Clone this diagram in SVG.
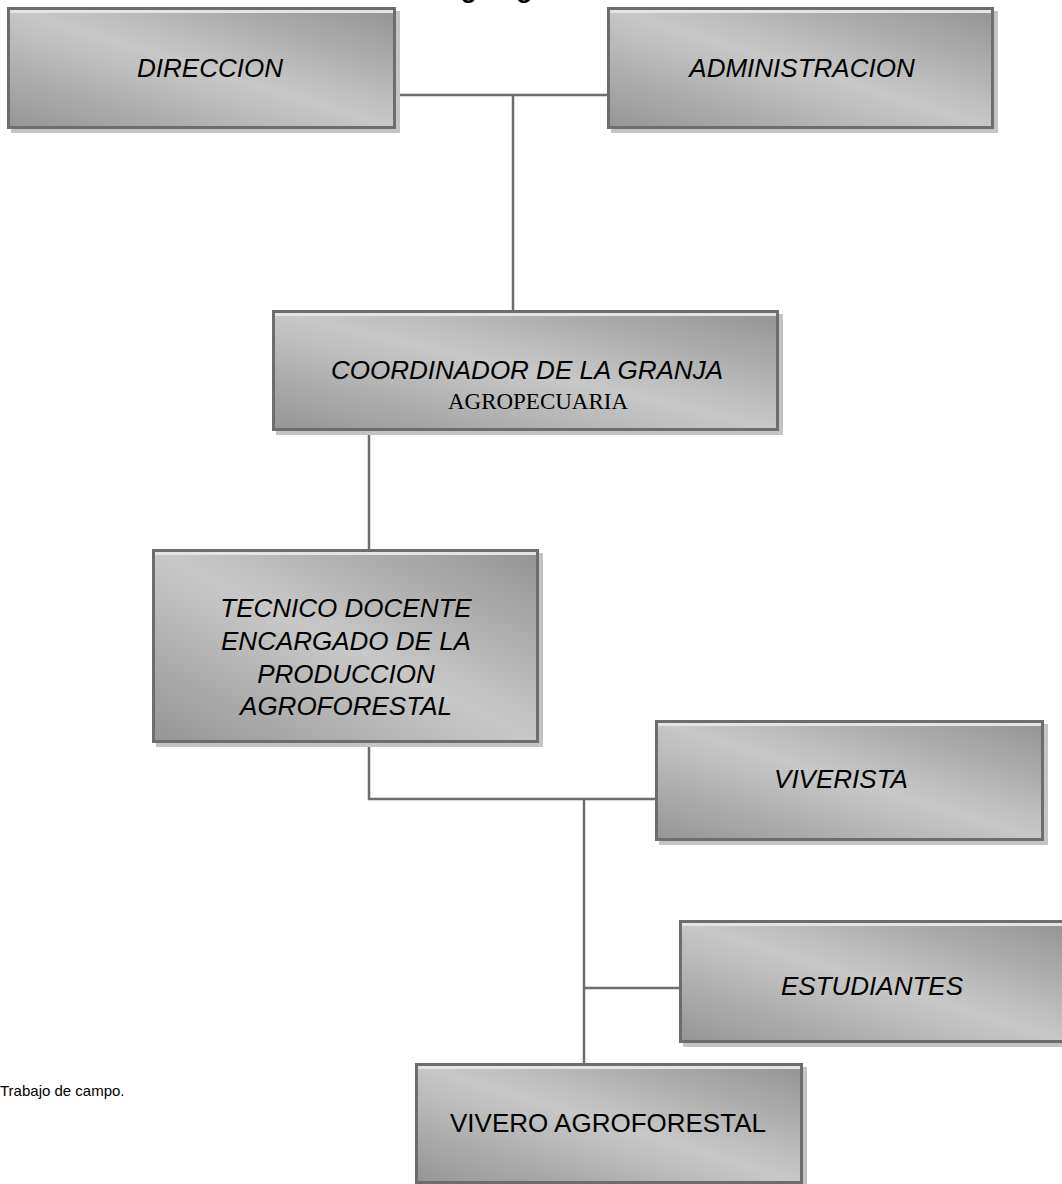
<svg xmlns="http://www.w3.org/2000/svg" width="1062" height="1184" viewBox="0 0 1062 1184">
<style>
.shadow{fill:#c4c4c4}
.box{fill:url(#g);stroke:#6d6d6d;stroke-width:3}
.hl{fill:#e4e4e4}
.conn{stroke:#6d6d6d;stroke-width:2.5;fill:none}
.t{font-family:"Liberation Sans",Arial,sans-serif;font-size:26px;font-style:italic;fill:#000;text-anchor:middle}
.n{font-family:"Liberation Sans",Arial,sans-serif;font-size:26px;fill:#000;text-anchor:middle}
.s{font-family:"Liberation Serif","Times New Roman",serif;font-size:23px;fill:#000;text-anchor:middle}
</style>
<defs>
<linearGradient id="g" x1="1" y1="0" x2="0" y2="1">
<stop offset="0" stop-color="#939393"/>
<stop offset="0.5" stop-color="#c8c8c8"/>
<stop offset="1" stop-color="#959595"/>
</linearGradient>
</defs>
<rect width="1062" height="1184" fill="#fff"/>
<text x="513" y="-3" style="font-family:'Liberation Sans',Arial,sans-serif;font-size:27px;font-weight:bold;text-anchor:middle">Organigrama</text>
<g id="connectors">
<path class="conn" d="M395 95 H608"/>
<path class="conn" d="M513 95 V311"/>
<path class="conn" d="M369 431 V550"/>
<path class="conn" d="M369 742 V799 H656"/>
<path class="conn" d="M584 799 V1065"/>
<path class="conn" d="M584 988 H680"/>
</g>
<g id="direccion">
<rect class="shadow" x="11" y="11" width="389" height="122"/>
<rect class="box" x="8.5" y="8.5" width="386" height="119"/>
<rect class="hl" x="10" y="10" width="383" height="3"/>
<text class="t" x="210" y="77">DIRECCION</text>
</g>
<g id="administracion">
<rect class="shadow" x="611" y="11" width="387" height="122"/>
<rect class="box" x="608.5" y="8.5" width="384" height="119"/>
<rect class="hl" x="610" y="10" width="381" height="3"/>
<text class="t" x="802" y="77">ADMINISTRACION</text>
</g>
<g id="coordinador">
<rect class="shadow" x="276" y="314" width="507" height="121"/>
<rect class="box" x="273.5" y="311.5" width="504" height="118"/>
<rect class="hl" x="275" y="313" width="501" height="3"/>
<text class="t" x="527" y="379">COORDINADOR DE LA GRANJA</text>
<text class="s" x="538" y="409">AGROPECUARIA</text>
</g>
<g id="tecnico">
<rect class="shadow" x="156" y="553" width="387" height="194"/>
<rect class="box" x="153.5" y="550.5" width="384" height="191"/>
<rect class="hl" x="155" y="552" width="381" height="3"/>
<text class="t" x="346" y="617">TECNICO DOCENTE</text>
<text class="t" x="346" y="650">ENCARGADO DE LA</text>
<text class="t" x="346" y="683">PRODUCCION</text>
<text class="t" x="346" y="715">AGROFORESTAL</text>
</g>
<g id="viverista">
<rect class="shadow" x="659" y="724" width="389" height="121"/>
<rect class="box" x="656.5" y="721.5" width="386" height="118"/>
<rect class="hl" x="658" y="723" width="383" height="3"/>
<text class="t" x="841" y="788">VIVERISTA</text>
</g>
<g id="estudiantes">
<rect class="shadow" x="683" y="924" width="389" height="123"/>
<rect class="box" x="680.5" y="921.5" width="386" height="120"/>
<rect class="hl" x="682" y="923" width="383" height="3"/>
<text class="t" x="872" y="995">ESTUDIANTES</text>
</g>
<g id="vivero">
<rect class="shadow" x="419" y="1067" width="388" height="121"/>
<rect class="box" x="416.5" y="1064.5" width="385" height="118"/>
<rect class="hl" x="418" y="1066" width="382" height="3"/>
<text class="n" x="608" y="1132">VIVERO AGROFORESTAL</text>
</g>
<text x="0" y="1096" style="font-family:'Liberation Sans',Arial,sans-serif;font-size:15px;fill:#000">Trabajo de campo.</text>
</svg>
